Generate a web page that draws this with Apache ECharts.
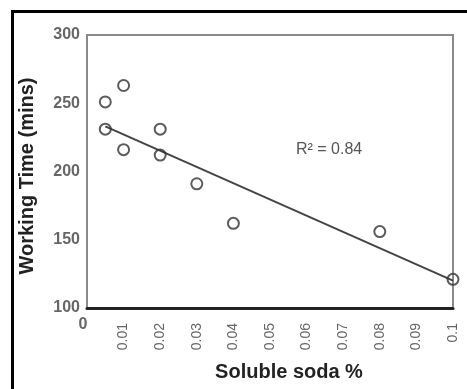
<!DOCTYPE html>
<html>
<head>
<meta charset="utf-8">
<script src="https://cdn.jsdelivr.net/npm/echarts@6/dist/echarts.min.js"></script>
<style>
html,body{margin:0;padding:0;background:#fff;}
#main{width:467px;height:389px;}
</style>
</head>
<body>
<div id="main"></div>
<script>
var sodaPct = [0.005, 0.005, 0.01, 0.01, 0.02, 0.02, 0.03, 0.04, 0.08, 0.1];
var workingTime = [251, 231, 263, 216, 231, 212, 191, 162, 156, 121];
var trendX = [0.005, 0.1];
var trendY = [233, 120];
var xTicks = ['0.01','0.02','0.03','0.04','0.05','0.06','0.07','0.08','0.09','0.1'];
var yTicks = [100, 150, 200, 250, 300];
var r2Label = 'R\u00B2 = 0.84';

var pts = sodaPct.map(function (x, i) { return [x, workingTime[i]]; });
var trend = trendX.map(function (x, i) { return [x, trendY[i]]; });
var font = '"Liberation Sans", Arial, sans-serif';

var chart = echarts.init(document.getElementById('main'), null, {renderer: 'canvas'});
chart.setOption({
  animation: false,
  backgroundColor: '#fff',
  grid: {left: 87, right: 14, top: 35, bottom: 81, show: true, borderColor: '#8a8a8a', borderWidth: 2, backgroundColor: 'transparent'},
  xAxis: [{
    type: 'value', min: 0, max: 0.1, interval: 0.01,
    name: 'Soluble soda %', nameLocation: 'middle', nameGap: 54,
    nameTextStyle: {fontFamily: font, fontSize: 20, fontWeight: 'bold', color: '#222', padding: [0, 0, 0, 38]},
    axisLine: {show: true, lineStyle: {color: '#222', width: 3}},
    axisTick: {show: false},
    splitLine: {show: false},
    axisLabel: {
      rotate: 90, margin: 15, fontFamily: font, fontSize: 14, color: '#666',
      formatter: function (v) {
        var s = (Math.round(v * 100) / 100).toString();
        return xTicks.indexOf(s) >= 0 ? s : '';
      }
    }
  }, {
    type: 'value', min: 0, max: 0.1, interval: 0.1, position: 'bottom',
    axisLine: {show: false}, axisTick: {show: false}, splitLine: {show: false},
    axisLabel: {margin: 9, fontFamily: font, fontSize: 16, fontWeight: 'bold', color: '#666',
      formatter: function (v) { return v === 0 ? '0' : ''; }, padding: [0, 8, 0, 0]}
  }],
  yAxis: {
    type: 'value', min: 100, max: 300, interval: 50,
    name: 'Working Time (mins)', nameLocation: 'middle', nameGap: 50,
    nameTextStyle: {fontFamily: font, fontSize: 20, fontWeight: 'bold', color: '#222', padding: [0, 9, 0, 0]},
    axisLine: {show: true, lineStyle: {color: '#8a8a8a', width: 2}},
    axisTick: {show: false},
    splitLine: {show: false},
    axisLabel: {margin: 7, fontFamily: font, fontSize: 16, fontWeight: 'bold', color: '#666',
      formatter: function (v) { return yTicks.indexOf(v) >= 0 ? String(v) : ''; }}
  },
  series: [{
    type: 'line', data: trend, symbol: 'none', xAxisIndex: 0,
    lineStyle: {color: '#444', width: 2}, z: 2
  }, {
    type: 'scatter', data: pts, xAxisIndex: 0,
    symbol: 'circle', symbolSize: 11,
    itemStyle: {color: 'rgba(255,255,255,0)', borderColor: '#333', borderWidth: 2}, z: 3,
    clip: false
  }],
  graphic: [{
    type: 'rect', left: 10, top: 9, shape: {width: 480, height: 400},
    style: {fill: 'none', stroke: '#000', lineWidth: 3}, silent: true
  }, {
    type: 'text', left: 296, top: 142,
    style: {text: r2Label, font: '16px ' + font, fill: '#555'}
  }]
});
</script>
</body>
</html>
